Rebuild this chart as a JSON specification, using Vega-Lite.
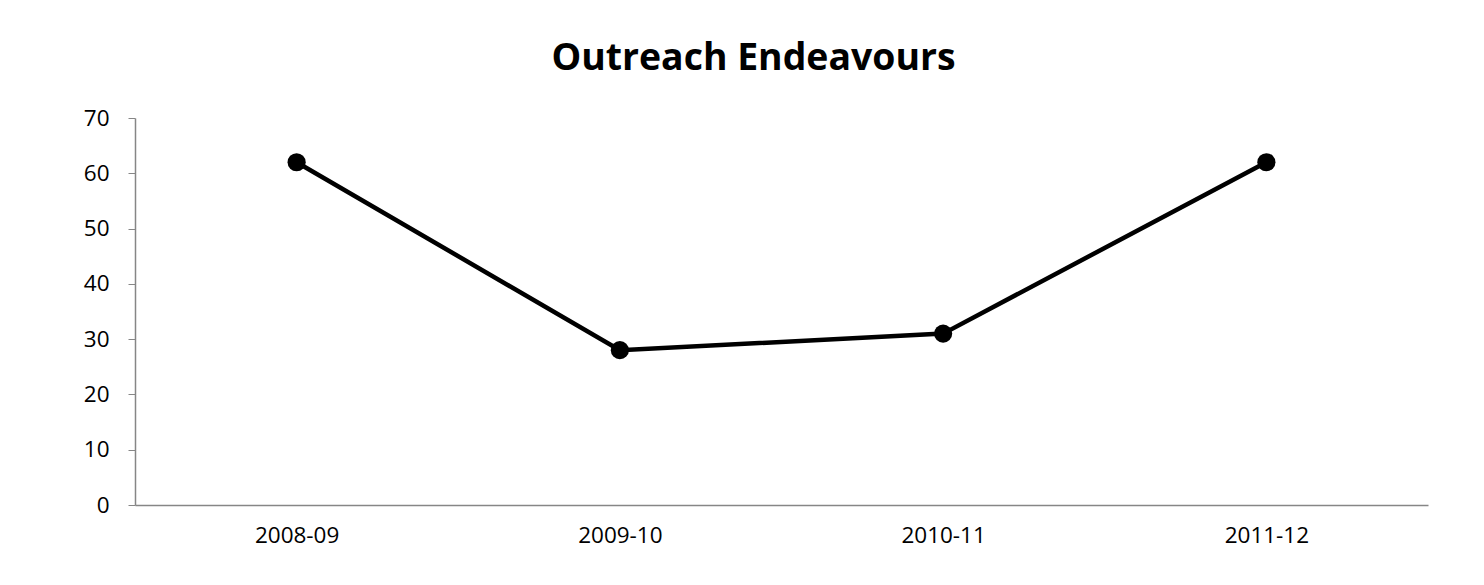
{
  "$schema": "https://vega.github.io/schema/vega-lite/v6.json",
  "width": 1293,
  "height": 387,
  "autosize": {"type": "none"},
  "padding": {"left": 135, "top": 118, "right": 56, "bottom": 80},
  "background": "white",
  "config": {"view": {"stroke": null}, "font": "Open Sans"},
  "title": {
    "text": "Outreach Endeavours",
    "font": "Open Sans",
    "fontSize": 37.4,
    "fontWeight": "bold",
    "color": "black",
    "anchor": "middle",
    "baseline": "alphabetic",
    "offset": 0,
    "dx": -28
  },
  "data": {
    "values": [
      {"year": "2008-09", "value": 62},
      {"year": "2009-10", "value": 28},
      {"year": "2010-11", "value": 31},
      {"year": "2011-12", "value": 62}
    ]
  },
  "encoding": {
    "x": {
      "field": "year",
      "type": "ordinal",
      "sort": null,
      "scale": {"type": "point", "padding": 0.5},
      "axis": {
        "title": null,
        "labelAngle": 0,
        "ticks": false,
        "labelPadding": 19,
        "labelFont": "Open Sans",
        "labelFontSize": 22.5,
        "labelColor": "black",
        "domainColor": "#868686",
        "domainWidth": 1.5
      }
    },
    "y": {
      "field": "value",
      "type": "quantitative",
      "scale": {"domain": [0, 70]},
      "axis": {
        "title": null,
        "values": [0, 10, 20, 30, 40, 50, 60, 70],
        "grid": false,
        "tickSize": 7,
        "tickColor": "#868686",
        "labelPadding": 19,
        "labelFont": "Open Sans",
        "labelFontSize": 22.5,
        "labelColor": "black",
        "domainColor": "#868686",
        "domainWidth": 1.5
      }
    }
  },
  "layer": [
    {"mark": {"type": "line", "color": "black", "strokeWidth": 4.5}},
    {"mark": {"type": "point", "filled": true, "color": "black", "opacity": 1, "size": 330}}
  ]
}
